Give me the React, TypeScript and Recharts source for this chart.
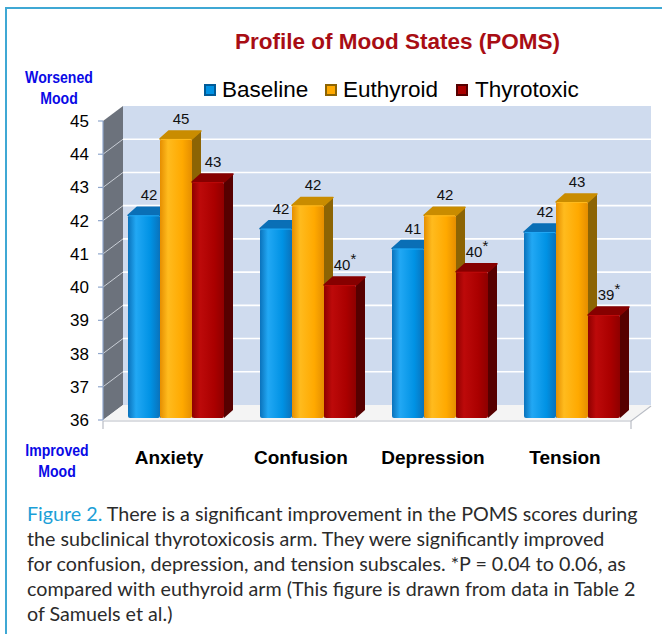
import { BarChart, Bar, XAxis, YAxis, ReferenceArea, LabelList, Legend } from "recharts";

const categories = ["Anxiety", "Confusion", "Depression", "Tension"];
const baseline = [42.1, 41.7, 41.1, 41.6];
const euthyroid = [44.4, 42.4, 42.1, 42.5];
const thyrotoxic = [43.1, 40.0, 40.4, 39.1];
const baselineLabels = ["42", "42", "41", "42"];
const euthyroidLabels = ["45", "42", "42", "43"];
const thyrotoxicLabels = ["43", "40*", "40*", "39*"];
const yTicks = [36, 37, 38, 39, 40, 41, 42, 43, 44, 45];

const data = categories.map((name, i) => ({
  name,
  baseline: baseline[i],
  euthyroid: euthyroid[i],
  thyrotoxic: thyrotoxic[i],
  baselineLabel: baselineLabels[i],
  euthyroidLabel: euthyroidLabels[i],
  thyrotoxicLabel: thyrotoxicLabels[i],
}));

const FONT = '"Liberation Sans", Arial, sans-serif';
// depth of the back wall and of each bar
const WALL_DX = 20;
const WALL_DY = -15;
const BAR_DX = 9;
const BAR_DY = -8;
const SHIFT_X = 7;
const SHIFT_Y = -2;

const SERIES = [
  { key: "baseline", name: "Baseline", front: "#0092e4", edge: "#0a72bb", hi: "#22a8f4", cap: "#0a6fb6", side: "#005b98" },
  { key: "euthyroid", name: "Euthyroid", front: "#ffa900", edge: "#e58e00", hi: "#ffbb1e", cap: "#c98c00", side: "#8c6404" },
  { key: "thyrotoxic", name: "Thyrotoxic", front: "#aa0000", edge: "#8e0000", hi: "#bd0a0a", cap: "#860000", side: "#560000" },
];

function Walls(props: any) {
  const { x, y, width: w, height: h } = props;
  const n = yTicks.length - 1;
  const step = h / n;
  const lines = yTicks.slice(1, -1).map((_, i) => y + (i + 1) * step);
  return (
    <g>
      <polygon
        points={`${x},${y} ${x + WALL_DX},${y + WALL_DY} ${x + WALL_DX},${y + h + WALL_DY} ${x},${y + h}`}
        fill="#6c727c"
      />
      <rect x={x + WALL_DX} y={y + WALL_DY} width={w} height={h} fill="#cfdbee" />
      {lines.map((ly, i) => (
        <g key={i}>
          <line x1={x + WALL_DX} x2={x + WALL_DX + w} y1={ly + WALL_DY} y2={ly + WALL_DY} stroke="#ffffff" strokeWidth={1.6} />
          <line x1={x} x2={x + WALL_DX} y1={ly} y2={ly + WALL_DY} stroke="#c9ced6" strokeWidth={1} />
        </g>
      ))}
      <polygon
        points={`${x},${y + h} ${x + WALL_DX},${y + h + WALL_DY} ${x + WALL_DX + w},${y + h + WALL_DY} ${x + w},${y + h}`}
        fill="#f4f4f4"
      />
      <line x1={x} x2={x + w} y1={y + h + 1} y2={y + h + 1} stroke="#b9bdc5" strokeWidth={1.2} />
      <line x1={x + w} x2={x + w + WALL_DX} y1={y + h + 1} y2={y + h + 1 + WALL_DY} stroke="#b9bdc5" strokeWidth={1.2} />
      <line x1={x} x2={x} y1={y + h + 1} y2={y + h + 9} stroke="#b9bdc5" strokeWidth={1.2} />
      <line x1={x + w} x2={x + w} y1={y + h + 1} y2={y + h + 9} stroke="#b9bdc5" strokeWidth={1.2} />
    </g>
  );
}

function makeBar(s: (typeof SERIES)[number]) {
  return function Bar3D(props: any) {
    const { x, y, width: w, height: h } = props;
    if (!h || h <= 0) return null;
    const fx = x + SHIFT_X;
    const fy = y + SHIFT_Y;
    return (
      <g>
        <polygon
          points={`${fx + w},${fy} ${fx + w + BAR_DX},${fy + BAR_DY} ${fx + w + BAR_DX},${fy + h + BAR_DY} ${fx + w},${fy + h}`}
          fill={s.side}
        />
        <polygon
          points={`${fx},${fy} ${fx + BAR_DX},${fy + BAR_DY} ${fx + w + BAR_DX},${fy + BAR_DY} ${fx + w},${fy}`}
          fill={s.cap}
          stroke={s.cap}
          strokeLinejoin="round"
          strokeWidth={1.5}
        />
        <rect x={fx} y={fy} width={w} height={h} fill={`url(#grad-${s.key})`} rx={2} />
        <line x1={fx + 1} x2={fx + w - 1} y1={fy + 0.5} y2={fy + 0.5} stroke={s.hi} strokeWidth={1} />
      </g>
    );
  };
}

function ValueLabel(props: any) {
  const { x, y, width, value } = props;
  const text = String(value);
  const star = text.endsWith("*");
  const num = star ? text.slice(0, -1) : text;
  return (
    <text
      x={x + width / 2 + SHIFT_X + 5}
      y={y + SHIFT_Y - 15}
      textAnchor="middle"
      fontSize={15}
      fontFamily={FONT}
      fill="#111"
    >
      {num}
      {star && (
        <tspan dy={-6} fontSize={15}>
          *
        </tspan>
      )}
    </text>
  );
}

function CategoryTick(props: any) {
  const { x, y, payload } = props;
  return (
    <text x={x} y={y + 37} textAnchor="middle" dominantBaseline="central" fontSize={19} fontWeight="bold" fontFamily={FONT} fill="#000">
      {payload.value}
    </text>
  );
}

function LegendContent() {
  const pos = [
    { sq: 204, tx: 222 },
    { sq: 325, tx: 343 },
    { sq: 456, tx: 475 },
  ];
  return (
    <div style={{ position: "relative", height: 26 }}>
      {SERIES.map((s, i) => (
        <div key={s.key}>
          <svg width={12} height={12} style={{ position: "absolute", left: pos[i].sq - 200, top: 7 }}>
            <rect x={0} y={0} width={12} height={12} fill={s.side} />
            <rect x={2} y={2} width={8} height={8} fill={s.front} />
          </svg>
          <span
            style={{
              position: "absolute",
              left: pos[i].tx - 200,
              top: 0,
              fontFamily: FONT,
              fontSize: 22.5,
              lineHeight: "26px",
              color: "#000",
              whiteSpace: "nowrap",
            }}
          >
            {s.name}
          </span>
        </div>
      ))}
    </div>
  );
}

const sideText: React.CSSProperties = {
  position: "absolute",
  width: 100,
  textAlign: "center",
  fontFamily: FONT,
  fontWeight: "bold",
  fontSize: 16,
  lineHeight: "21px",
  color: "#0a0ae6",
  transform: "scaleX(0.88)",
};

export default function App() {
  return (
    <div style={{ position: "absolute", left: 0, top: 0, width: 662, height: 634, background: "#fff", overflow: "hidden" }}>
      <div style={{ position: "absolute", left: 5, top: 7, width: 2, height: 640, background: "#3fa8d4" }} />
      <div style={{ position: "absolute", left: 5, top: 7, width: 670, height: 2, background: "#3fa8d4" }} />

      <div
        style={{
          position: "absolute",
          left: 0,
          top: 28,
          width: 795,
          textAlign: "center",
          fontFamily: FONT,
          fontWeight: "bold",
          fontSize: 22.5,
          lineHeight: "28px",
          color: "#a80d14",
        }}
      >
        Profile of Mood States (POMS)
      </div>

      <div style={{ ...sideText, left: 9, top: 67 }}>
        Worsened
        <br />
        Mood
      </div>
      <div style={{ ...sideText, left: 7, top: 440 }}>
        Improved
        <br />
        Mood
      </div>

      <div style={{ position: "absolute", left: 0, top: 0 }}>
        <BarChart
          width={662}
          height={480}
          data={data}
          margin={{ top: 121, right: 31, left: 43, bottom: 20 }}
          barGap={0}
          barSize={32}
        >
          <defs>
            {SERIES.map((s) => (
              <linearGradient key={s.key} id={`grad-${s.key}`} x1="0" y1="0" x2="1" y2="0">
                <stop offset="0%" stopColor={s.edge} />
                <stop offset="25%" stopColor={s.hi} />
                <stop offset="70%" stopColor={s.front} />
                <stop offset="100%" stopColor={s.edge} />
              </linearGradient>
            ))}
          </defs>
          <ReferenceArea y1={36} y2={45} shape={<Walls />} ifOverflow="visible" />
          <XAxis
            dataKey="name"
            axisLine={false}
            tickLine={false}
            tickSize={0}
            tickMargin={0}
            height={40}
            tick={<CategoryTick />}
            interval={0}
          />
          <YAxis
            domain={[36, 45]}
            ticks={yTicks}
            interval={0}
            width={60}
            tickSize={5}
            tickMargin={9}
            axisLine={{ stroke: "#8fa6cb", strokeWidth: 1.2 }}
            tickLine={{ stroke: "#8fa6cb", strokeWidth: 1.2 }}
            tick={{ fontSize: 17, fill: "#000", fontFamily: FONT }}
            allowDataOverflow
          />
          <Legend
            verticalAlign="middle"
            align="center"
            layout="horizontal"
            content={<LegendContent />}
            wrapperStyle={{ top: 77, left: 200, width: 420 }}
          />
          {SERIES.map((s) => (
            <Bar key={s.key} dataKey={s.key} name={s.name} fill={s.front} shape={makeBar(s)} isAnimationActive={false}>
              <LabelList dataKey={`${s.key}Label`} content={<ValueLabel />} />
            </Bar>
          ))}
        </BarChart>
      </div>

      <div
        style={{
          position: "absolute",
          left: 27,
          top: 501,
          fontFamily: "Lato, sans-serif",
          fontSize: 19.7,
          lineHeight: "25px",
          color: "#2b2b2b",
          whiteSpace: "nowrap",
        }}
      >
        <div>
          <span style={{ color: "#1c9fd7" }}>Figure 2.</span> There is a significant improvement in the POMS scores during
        </div>
        <div>the subclinical thyrotoxicosis arm. They were significantly improved</div>
        <div>for confusion, depression, and tension subscales. *P = 0.04 to 0.06, as</div>
        <div>compared with euthyroid arm (This figure is drawn from data in Table 2</div>
        <div>of Samuels et al.)</div>
      </div>
    </div>
  );
}
